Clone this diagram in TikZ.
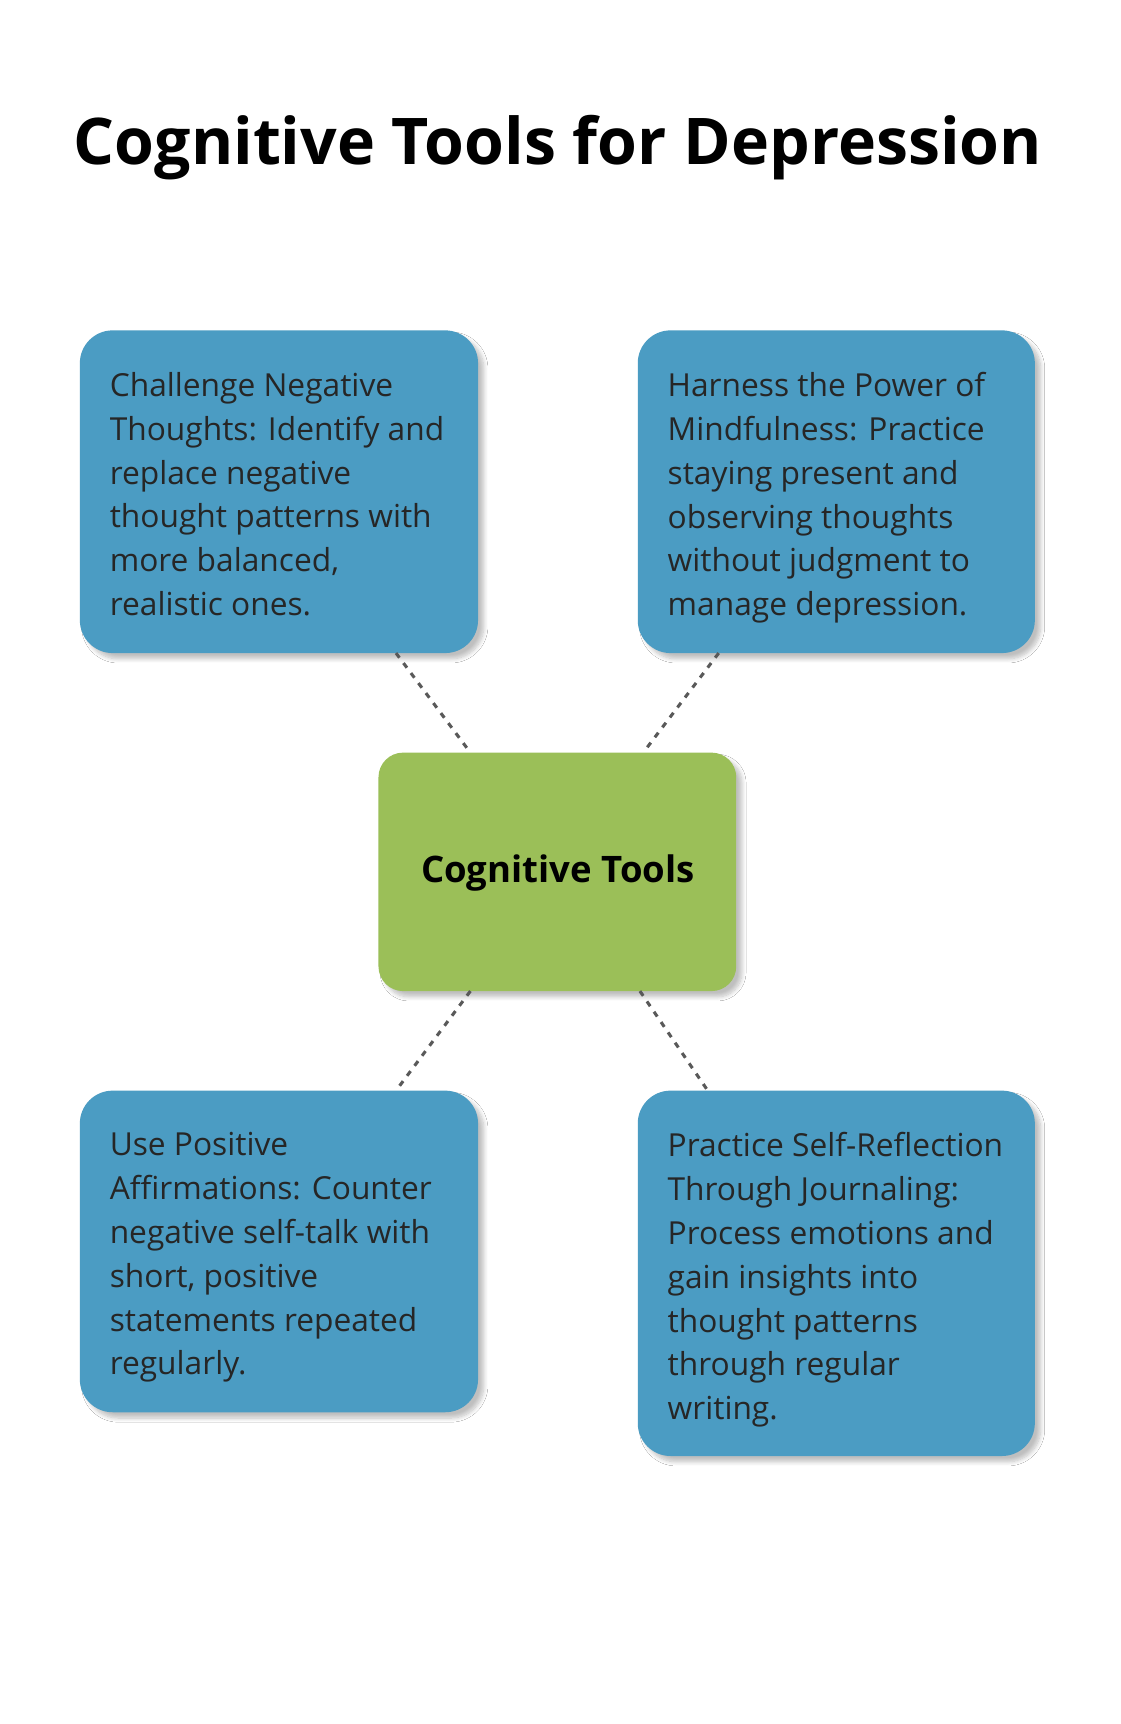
\documentclass[tikz,border=0pt]{standalone}
\usepackage{fontspec}
\setmainfont{Open Sans}
\usetikzlibrary{shadows.blur,calc}
\definecolor{boxblue}{HTML}{4B9CC3}
\definecolor{boxgreen}{HTML}{9BBF58}
\tikzset{
  card/.style={fill=boxblue,rounded corners=0.6cm,blur shadow={shadow xshift=3pt,shadow yshift=-3pt,shadow blur steps=8,shadow opacity=25}},
  ctr/.style={fill=boxgreen,rounded corners=0.45cm,blur shadow={shadow xshift=3pt,shadow yshift=-3pt,shadow blur steps=8,shadow opacity=25}},
  txt/.style={anchor=north west,inner sep=0pt,align=left,font=\fontsize{16.5pt}{22.8pt}\selectfont,text=black!85},
  conn/.style={draw=black!65,line width=1.6pt,dash pattern=on 3pt off 3.5pt}
}
\begin{document}
\begin{tikzpicture}[x=0.02cm,y=-0.02cm]
\useasboundingbox[fill=white] (0,0) rectangle (1024,1576);
\node[font=\fontsize{33.5pt}{40pt}\selectfont\bfseries] (title) at (510,135) {Cognitive Tools for Depression};
\path[card] (73,302) rectangle (437,597);
\path[card] (583,302) rectangle (946,597);
\path[card] (73,997) rectangle (437,1291);
\path[card] (583,997) rectangle (946,1331);
\path[ctr] (346,688) rectangle (673,906);
\coordinate (tla) at (362,597); \coordinate (tlb) at (430,688);
\coordinate (tra) at (657,597); \coordinate (trb) at (588,688);
\coordinate (bla) at (430,906); \coordinate (blb) at (362,997);
\coordinate (bra) at (585,906); \coordinate (brb) at (647,997);
\draw[conn] (tla) -- (tlb);
\draw[conn] (tra) -- (trb);
\draw[conn] (bla) -- (blb);
\draw[conn] (bra) -- (brb);
\node[font=\fontsize{19pt}{22pt}\selectfont\bfseries] (c) at (510,798) {Cognitive Tools};
\node[txt] (t1) at (100,340) {Challenge Negative\\Thoughts: Identify and\\replace negative\\thought patterns with\\more balanced,\\realistic ones.};
\node[txt] (t2) at (610,340) {Harness the Power of\\Mindfulness: Practice\\staying present and\\observing thoughts\\without judgment to\\manage depression.};
\node[txt] (t3) at (100,1035) {Use Positive\\Affirmations: Counter\\negative self-talk with\\short, positive\\statements repeated\\regularly.};
\node[txt] (t4) at (610,1035) {Practice Self-Reflection\\Through Journaling:\\Process emotions and\\gain insights into\\thought patterns\\through regular\\writing.};
\end{tikzpicture}
\end{document}
